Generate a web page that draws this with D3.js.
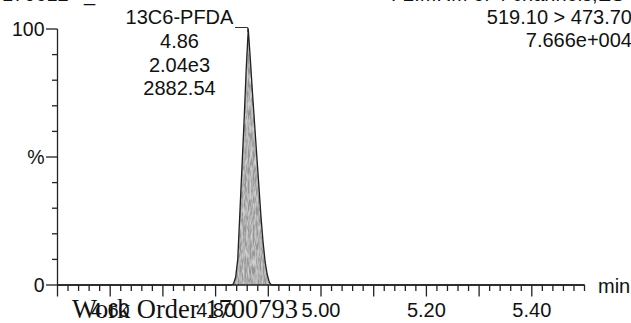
<!DOCTYPE html>
<html>
<head>
<meta charset="utf-8">
<script src="https://cdn.jsdelivr.net/npm/d3@7"></script>
<style>
  html, body { margin: 0; padding: 0; background: #fff; }
  svg { display: block; }
  text { font-family: Arial, "Liberation Sans", sans-serif; fill: #111; }
  .serif { font-family: "Times New Roman", "Liberation Serif", serif; }
</style>
</head>
<body>
<svg id="chart" width="631" height="323"></svg>
<script>
// Chromatogram trace: retention time (min) vs. relative intensity (%)
const peakTimes     = [4.500, 4.830, 4.834, 4.838, 4.842, 4.846, 4.850, 4.854, 4.858, 4.862,
                       4.866, 4.870, 4.874, 4.878, 4.882, 4.886, 4.890, 4.894, 4.898, 4.902, 4.906, 5.500];
const peakIntensity = [0, 0, 0.5, 3, 10, 28, 46, 64, 84, 100,
                       88, 75, 63, 51, 39, 27, 17, 9, 4, 1, 0, 0];

// Axis definitions
const timeDomain = [4.50, 5.50];
const xLabelTicks = [4.60, 4.80, 5.00, 5.20, 5.40];
const xTickLabels = ["4.60", "4.80", "5.00", "5.20", "5.40"];
const yLabelTicks = [0, 50, 100];
const yTickLabels = ["0", "%", "100"];

// Annotations
const peakLabelLines = ["13C6-PFDA", "4.86", "2.04e3", "2882.54"];
const peakApexTime = 4.862;
const traceInfo = ["519.10 > 473.70", "7.666e+004"];
const headerLeft = ["170612", "_"];
const headerRight = "F2:MRM of 4 channels,ES-";
const footerText = "Work Order 1700793";
const xUnit = "min";

const svg = d3.select("#chart");
const x = d3.scaleLinear().domain(timeDomain).range([57.5, 584.5]);
const y = d3.scaleLinear().domain([0, 100]).range([285, 29]);

// Grain texture for the peak fill
const defs = svg.append("defs");
const f = defs.append("filter").attr("id", "grain")
  .attr("x", 0).attr("y", 0).attr("width", 1).attr("height", 1);
f.append("feTurbulence").attr("type", "fractalNoise")
  .attr("baseFrequency", "0.6 0.12").attr("numOctaves", 2).attr("seed", 4).attr("result", "noise");
f.append("feColorMatrix").attr("in", "noise").attr("type", "matrix")
  .attr("values", "0 0 0 0 1  0 0 0 0 1  0 0 0 0 1  1.1 0 0 0 -0.35").attr("result", "specks");
f.append("feComposite").attr("in", "specks").attr("in2", "SourceGraphic").attr("operator", "in").attr("result", "clipped");
f.append("feMerge").selectAll("feMergeNode").data(["SourceGraphic", "clipped"]).join("feMergeNode").attr("in", d => d);

const pts = peakTimes.map((t, i) => [t, peakIntensity[i]]);

// Peak fill
svg.append("path")
  .datum(pts)
  .attr("d", d3.area().x(d => x(d[0])).y0(y(0)).y1(d => y(d[1])))
  .attr("fill", "#959595")
  .attr("filter", "url(#grain)");

// Y axis
const yAxisG = svg.append("g").attr("stroke", "#222").attr("stroke-width", 1.3);
yAxisG.append("line").attr("x1", 57.5).attr("x2", 57.5).attr("y1", y(100)).attr("y2", y(0));
d3.range(0, 101, 10).forEach(v => {
  const major = yLabelTicks.includes(v);
  yAxisG.append("line")
    .attr("x1", major ? 46 : 52).attr("x2", 57.5)
    .attr("y1", y(v)).attr("y2", y(v));
});
svg.selectAll(".ylab").data(yLabelTicks).join("text")
  .attr("class", "ylab")
  .attr("x", 44.5).attr("y", d => y(d) + 7)
  .attr("text-anchor", "end").attr("font-size", 19.5)
  .text((d, i) => yTickLabels[i]);

// X axis
const xAxisG = svg.append("g").attr("stroke", "#222").attr("stroke-width", 1.3);
xAxisG.append("line").attr("x1", x(4.5)).attr("x2", x(5.5)).attr("y1", y(0)).attr("y2", y(0));
d3.range(0, 51).forEach(k => {
  const t = 4.5 + k * 0.02;
  const major = k % 5 === 0 && k < 50;
  xAxisG.append("line")
    .attr("x1", x(t)).attr("x2", x(t))
    .attr("y1", y(0)).attr("y2", y(0) + (major ? 11.5 : 6));
});

// Chromatogram outline
svg.append("path")
  .datum(pts)
  .attr("d", d3.line().x(d => x(d[0])).y(d => y(d[1])))
  .attr("fill", "none").attr("stroke", "#222").attr("stroke-width", 1.3)
  .attr("stroke-linejoin", "round");

// Footer stamp (behind axis labels)
svg.append("text").attr("class", "serif")
  .attr("x", 72).attr("y", 318).attr("font-size", 26.5)
  .text(footerText);

svg.selectAll(".xlab").data(xLabelTicks).join("text")
  .attr("class", "xlab")
  .attr("x", d => x(d)).attr("y", 317)
  .attr("text-anchor", "middle").attr("font-size", 20)
  .text((d, i) => xTickLabels[i]);

svg.append("text").attr("x", 598).attr("y", 293).attr("font-size", 20).text(xUnit);

// Peak annotation
svg.selectAll(".plab").data(peakLabelLines).join("text")
  .attr("class", "plab")
  .attr("x", 179.5).attr("y", (d, i) => 24 + i * 23.8)
  .attr("text-anchor", "middle").attr("font-size", 20)
  .text(d => d);
svg.append("path")
  .attr("d", `M235,27.5H${x(peakApexTime) - 0.5}V${y(100) + 3}`)
  .attr("fill", "none").attr("stroke", "#333").attr("stroke-width", 1);

// Trace info (top right)
svg.selectAll(".tinfo").data(traceInfo).join("text")
  .attr("class", "tinfo")
  .attr("x", 632).attr("y", (d, i) => 24 + i * 23.2)
  .attr("text-anchor", "end").attr("font-size", 20)
  .text(d => d);

// Header line (runs off the top edge)
const hdr = svg.append("text").attr("y", 0.6).attr("font-size", 20);
hdr.append("tspan").attr("x", 2).text(headerLeft[0]);
hdr.append("tspan").attr("x", 84).text(headerLeft[1]);
svg.append("text").attr("x", 631).attr("y", 0.6).attr("text-anchor", "end").attr("font-size", 20).text(headerRight);
</script>
</body>
</html>
